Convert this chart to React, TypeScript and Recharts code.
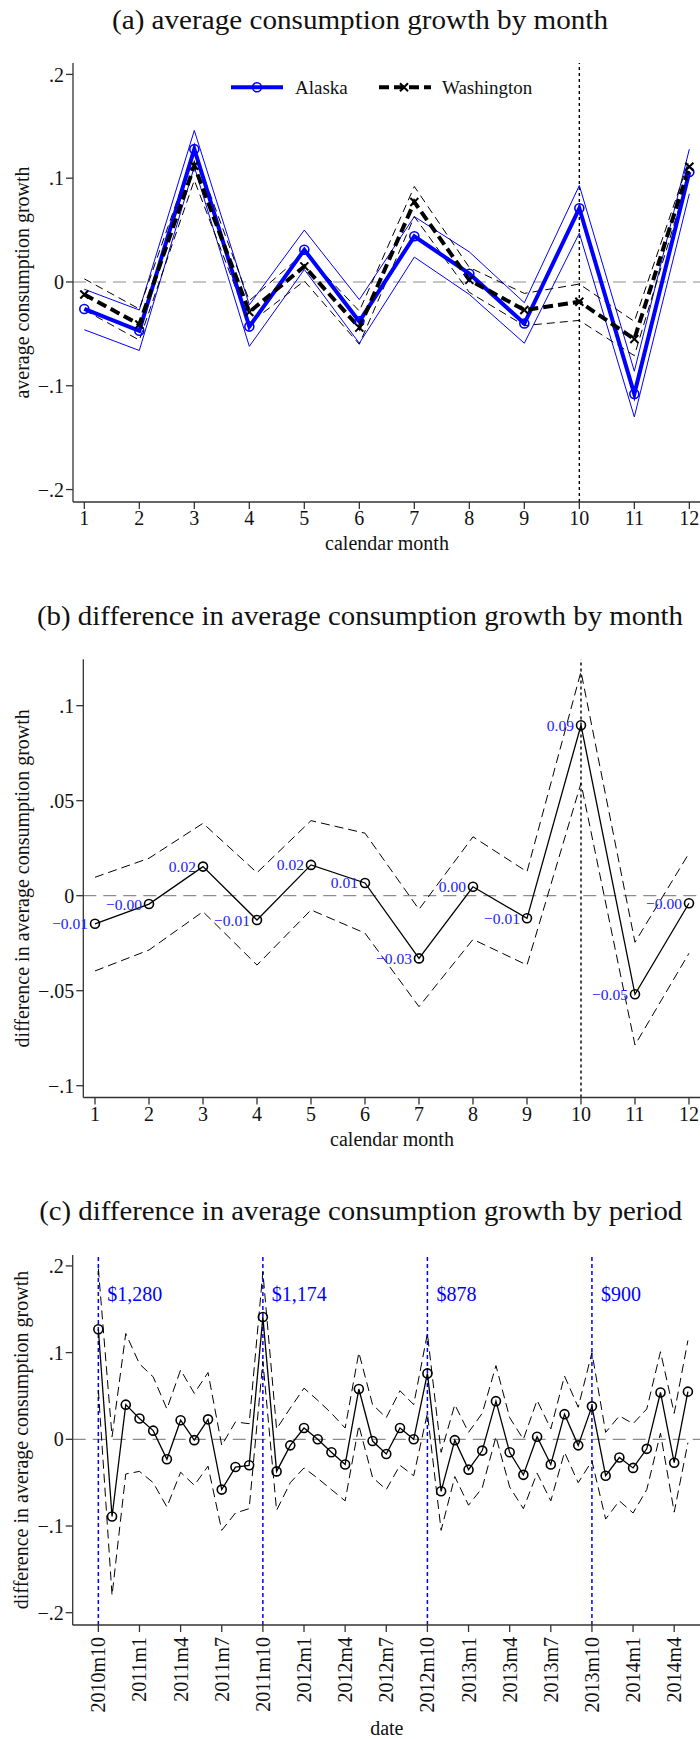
import React from "react";
import {
  LineChart,
  Line,
  XAxis,
  YAxis,
  ReferenceLine,
  ReferenceDot,
  LabelList,
  Legend,
} from "recharts";

const SERIF = '"Liberation Serif", "Times New Roman", serif';
const BLUE = "#0000ff";
const AXIS = "#333333";
const INK = "#111111";
const FONT = 20;

// (a) average consumption growth by calendar month
const months = [1, 2, 3, 4, 5, 6, 7, 8, 9, 10, 11, 12];
const alaska = [-0.026, -0.047, 0.128, -0.043, 0.031, -0.038, 0.044, 0.008, -0.04, 0.071, -0.108, 0.106];
const alaskaHi = [-0.007, -0.027, 0.146, -0.022, 0.05, -0.017, 0.063, 0.029, -0.02, 0.093, -0.086, 0.128];
const alaskaLo = [-0.046, -0.066, 0.111, -0.062, 0.012, -0.059, 0.024, -0.012, -0.059, 0.047, -0.13, 0.085];
const washington = [-0.012, -0.041, 0.112, -0.029, 0.015, -0.044, 0.077, 0.002, -0.027, -0.019, -0.055, 0.111];
const washingtonHi = [0.003, -0.026, 0.126, -0.018, 0.028, -0.028, 0.092, 0.014, -0.011, -0.002, -0.038, 0.118];
const washingtonLo = [-0.027, -0.056, 0.098, -0.04, 0.001, -0.06, 0.063, -0.01, -0.042, -0.037, -0.071, 0.104];

// (b) Alaska minus Washington, by calendar month
const monthDiff = [-0.0148, -0.0044, 0.0153, -0.0128, 0.0162, 0.0067, -0.033, 0.0047, -0.0119, 0.0897, -0.0519, -0.004];
const monthDiffHi = [0.0097, 0.0197, 0.0381, 0.0121, 0.0395, 0.0329, -0.0072, 0.031, 0.0126, 0.1179, -0.0245, 0.0223];
const monthDiffLo = [-0.0396, -0.0286, -0.0084, -0.0365, -0.0075, -0.0197, -0.0584, -0.023, -0.0365, 0.0592, -0.0786, -0.0303];

// (c) Alaska minus Washington, by period
const periods = [
  "2010m10", "2010m11", "2010m12",
  "2011m1", "2011m2", "2011m3", "2011m4", "2011m5", "2011m6", "2011m7", "2011m8", "2011m9", "2011m10", "2011m11", "2011m12",
  "2012m1", "2012m2", "2012m3", "2012m4", "2012m5", "2012m6", "2012m7", "2012m8", "2012m9", "2012m10", "2012m11", "2012m12",
  "2013m1", "2013m2", "2013m3", "2013m4", "2013m5", "2013m6", "2013m7", "2013m8", "2013m9", "2013m10", "2013m11", "2013m12",
  "2014m1", "2014m2", "2014m3", "2014m4", "2014m5",
];
const periodDiff = [
  0.127, -0.089, 0.04,
  0.024, 0.01, -0.023, 0.022, -0.001, 0.023, -0.058, -0.032, -0.03, 0.141, -0.037, -0.007,
  0.013, 0.0, -0.015, -0.029, 0.058, -0.002, -0.017, 0.013, 0.0, 0.076, -0.06, -0.001,
  -0.035, -0.013, 0.044, -0.015, -0.041, 0.003, -0.029, 0.029, -0.007, 0.038, -0.042, -0.021,
  -0.033, -0.011, 0.054, -0.027, 0.055,
];
const periodDiffHi = [
  0.197, 0.003, 0.122,
  0.087, 0.072, 0.035, 0.08, 0.053, 0.077, -0.007, 0.02, 0.018, 0.193, 0.012, 0.036,
  0.059, 0.045, 0.03, 0.013, 0.1, 0.04, 0.025, 0.056, 0.04, 0.122, -0.015, 0.04,
  0.008, 0.03, 0.085, 0.025, 0.0, 0.045, 0.012, 0.073, 0.037, 0.1, 0.008, 0.027,
  0.018, 0.035, 0.101, 0.03, 0.114,
];
const periodDiffLo = [
  0.057, -0.18, -0.04,
  -0.037, -0.05, -0.078, -0.038, -0.053, -0.031, -0.105, -0.085, -0.08, 0.09, -0.082, -0.05,
  -0.033, -0.045, -0.058, -0.071, 0.016, -0.044, -0.058, -0.03, -0.042, 0.03, -0.105, -0.043,
  -0.076, -0.056, 0.003, -0.055, -0.08, -0.039, -0.071, -0.015, -0.05, -0.025, -0.092, -0.071,
  -0.085, -0.058, 0.007, -0.084, -0.004,
];
const periodTicks = [
  "2010m10", "2011m1", "2011m4", "2011m7", "2011m10", "2012m1", "2012m4", "2012m7",
  "2012m10", "2013m1", "2013m4", "2013m7", "2013m10", "2014m1", "2014m4",
];
const paymentPeriods = ["2010m10", "2011m10", "2012m10", "2013m10"];
const paymentAmounts = ["$1,280", "$1,174", "$878", "$900"];
const PAYMENT_LABEL_Y = 0.168;

const stateRows = months.map((m, i) => ({
  month: m,
  alaska: alaska[i],
  alaskaHi: alaskaHi[i],
  alaskaLo: alaskaLo[i],
  washington: washington[i],
  washingtonHi: washingtonHi[i],
  washingtonLo: washingtonLo[i],
}));

const monthDiffRows = months.map((m, i) => ({
  month: m,
  diff: monthDiff[i],
  hi: monthDiffHi[i],
  lo: monthDiffLo[i],
}));

const periodRows = periods.map((p, i) => ({
  t: i,
  diff: periodDiff[i],
  hi: periodDiffHi[i],
  lo: periodDiffLo[i],
}));

// Stata-style tick labels: ".1", "-.05", "0"
const fmtTick = (v: number) => {
  if (v === 0) return "0";
  const s = String(Math.abs(v)).replace(/^0/, "");
  return v < 0 ? "\u2212" + s : s;
};
const fmtValue = (v: unknown) => Number(v).toFixed(2).replace("-", "\u2212");

const tickStyle = { fill: INK, fontSize: FONT, fontFamily: SERIF };
const axisLineStyle = { stroke: AXIS, strokeWidth: 1.3 };
const textFont = { fontSize: FONT, fontFamily: SERIF };

const hollowDot = (color: string) => ({ r: 4.5, stroke: color, strokeWidth: 1.6, fill: "none" });

const CrossDot = (props: any) => {
  const { cx, cy } = props;
  if (cx == null || cy == null) return null;
  const s = 4;
  return (
    <path
      d={`M${cx - s},${cy - s}L${cx + s},${cy + s}M${cx - s},${cy + s}L${cx + s},${cy - s}`}
      stroke="#000"
      strokeWidth={2}
      fill="none"
    />
  );
};

const StateLegend = () => (
  <svg width={700} height={30} style={{ display: "block" }}>
    <line x1={231} x2={283} y1={15.3} y2={15.3} stroke={BLUE} strokeWidth={4} />
    <circle cx={257} cy={15.3} r={4.5} fill="none" stroke={BLUE} strokeWidth={1.6} />
    <text x={295} y={21.6} fontSize={19} fontFamily={SERIF} fill={INK}>
      Alaska
    </text>
    <line x1={379} x2={431} y1={15.3} y2={15.3} stroke="#000" strokeWidth={4} strokeDasharray="10 5" />
    <CrossDot cx={404} cy={15.3} />
    <text x={442} y={21.6} fontSize={19} fontFamily={SERIF} fill={INK}>
      Washington
    </text>
  </svg>
);

const PeriodTick = (props: any) => {
  const { x, y, payload } = props;
  return (
    <text
      x={x}
      y={y}
      dy="0.35em"
      textAnchor="end"
      transform={`rotate(-90, ${x}, ${y})`}
      fill={INK}
      fontSize={FONT}
      fontFamily={SERIF}
    >
      {periods[payload.value]}
    </text>
  );
};

// rotated y-axis title, centred on the plot's height
const yTitle = (value: string, offset: number) => ({
  value,
  angle: -90,
  position: "insideLeft" as const,
  offset,
  fill: INK,
  style: { textAnchor: "middle" as const, ...textFont },
});

const xTitle = (value: string, offset: number, dx = 0) => ({
  value,
  position: "insideBottom" as const,
  offset,
  dx,
  fill: INK,
  style: { ...textFont },
});

function StateChart() {
  return (
    <LineChart
      width={720}
      height={562}
      data={stateRows}
      margin={{ top: 63, right: 19, bottom: 0, left: 0 }}
    >
      <ReferenceLine y={0} stroke="#8c8c8c" strokeWidth={1.2} strokeDasharray="13 7" />
      <ReferenceLine x={10} stroke="#000" strokeWidth={1.4} strokeDasharray="3 3" />
      <XAxis
        dataKey="month"
        type="number"
        domain={[0.7945, 12.212]}
        ticks={months}
        interval={0}
        allowDataOverflow
        height={60}
        tick={tickStyle}
        axisLine={axisLineStyle}
        tickLine={axisLineStyle}
        tickSize={7}
        tickMargin={2}
        label={xTitle("calendar month", 12)}
      />
      <YAxis
        type="number"
        domain={[-0.212, 0.211]}
        ticks={[-0.2, -0.1, 0, 0.1, 0.2]}
        allowDataOverflow
        width={73}
        tickFormatter={fmtTick}
        tick={tickStyle}
        axisLine={axisLineStyle}
        tickLine={axisLineStyle}
        tickSize={7}
        tickMargin={2}
        label={yTitle("average consumption growth", 22)}
      />
      <Line dataKey="alaskaHi" stroke={BLUE} strokeWidth={1} dot={false} activeDot={false} isAnimationActive={false} />
      <Line dataKey="alaskaLo" stroke={BLUE} strokeWidth={1} dot={false} activeDot={false} isAnimationActive={false} />
      <Line dataKey="washingtonHi" stroke="#000" strokeWidth={1} strokeDasharray="8 5" dot={false} activeDot={false} isAnimationActive={false} />
      <Line dataKey="washingtonLo" stroke="#000" strokeWidth={1} strokeDasharray="8 5" dot={false} activeDot={false} isAnimationActive={false} />
      <Line dataKey="alaska" name="Alaska" stroke={BLUE} strokeWidth={4} dot={hollowDot(BLUE)} activeDot={false} isAnimationActive={false} />
      <Line
        dataKey="washington"
        name="Washington"
        stroke="#000"
        strokeWidth={4}
        strokeDasharray="10 5"
        dot={(p: any) => <CrossDot key={p.index} {...p} />}
        activeDot={false}
        isAnimationActive={false}
      />
      <Legend
        layout="horizontal"
        verticalAlign="middle"
        align="center"
        content={StateLegend}
        wrapperStyle={{ top: 72, left: 0, width: 700, height: 30 }}
      />
    </LineChart>
  );
}

function MonthDiffChart() {
  return (
    <LineChart
      width={720}
      height={557.5}
      data={monthDiffRows}
      margin={{ top: 59.3, right: 19.3, bottom: 0, left: 0 }}
    >
      <ReferenceLine y={0} stroke="#8c8c8c" strokeWidth={1.3} strokeDasharray="13 7" />
      <XAxis
        dataKey="month"
        type="number"
        domain={[0.7833, 12.217]}
        ticks={months}
        interval={0}
        allowDataOverflow
        height={60}
        tick={tickStyle}
        axisLine={axisLineStyle}
        tickLine={axisLineStyle}
        tickSize={7}
        tickMargin={2}
        label={xTitle("calendar month", 12)}
      />
      <YAxis
        type="number"
        domain={[-0.1062, 0.1244]}
        ticks={[-0.1, -0.05, 0, 0.05, 0.1]}
        allowDataOverflow
        width={83.3}
        tickFormatter={fmtTick}
        tick={tickStyle}
        axisLine={axisLineStyle}
        tickLine={axisLineStyle}
        tickSize={7}
        tickMargin={2}
        label={yTitle("difference in average consumption growth", 21.7)}
      />
      <Line dataKey="hi" stroke="#000" strokeWidth={1} strokeDasharray="9 5" dot={false} activeDot={false} isAnimationActive={false} />
      <Line dataKey="lo" stroke="#000" strokeWidth={1} strokeDasharray="9 5" dot={false} activeDot={false} isAnimationActive={false} />
      <Line dataKey="diff" stroke="#000" strokeWidth={1.3} dot={hollowDot("#000")} activeDot={false} isAnimationActive={false}>
        <LabelList
          dataKey="diff"
          position="left"
          offset={7}
          formatter={fmtValue}
          fill="#1a1aff"
          style={{ fontSize: 15.5, fontFamily: SERIF }}
        />
      </Line>
      <ReferenceLine x={10} stroke="#000" strokeWidth={1.4} strokeDasharray="3 3" />
    </LineChart>
  );
}

function PeriodDiffChart() {
  const tickIdx = periodTicks.map((p) => periods.indexOf(p));
  return (
    <LineChart
      width={720}
      height={539}
      data={periodRows}
      margin={{ top: 55, right: 7, bottom: 0, left: 0 }}
    >
      <ReferenceLine y={0} stroke="#8c8c8c" strokeWidth={1.3} strokeDasharray="13 7" />
      {paymentPeriods.map((p) => (
        <ReferenceLine
          key={p}
          x={periods.indexOf(p)}
          stroke={BLUE}
          strokeWidth={1.5}
          strokeDasharray="4 3"
        />
      ))}
      <XAxis
        dataKey="t"
        type="number"
        domain={[-1.87, 44.83]}
        ticks={tickIdx}
        interval={0}
        allowDataOverflow
        height={114}
        tick={<PeriodTick />}
        axisLine={axisLineStyle}
        tickLine={axisLineStyle}
        tickSize={7}
        tickMargin={5}
        label={xTitle("date", 4, -6)}
      />
      <YAxis
        type="number"
        domain={[-0.2142, 0.2126]}
        ticks={[-0.2, -0.1, 0, 0.1, 0.2]}
        allowDataOverflow
        width={72.7}
        tickFormatter={fmtTick}
        tick={tickStyle}
        axisLine={axisLineStyle}
        tickLine={axisLineStyle}
        tickSize={7}
        tickMargin={2}
        label={yTitle("difference in average consumption growth", 21)}
      />
      <Line dataKey="hi" stroke="#000" strokeWidth={1} strokeDasharray="9 5" dot={false} activeDot={false} isAnimationActive={false} />
      <Line dataKey="lo" stroke="#000" strokeWidth={1} strokeDasharray="9 5" dot={false} activeDot={false} isAnimationActive={false} />
      <Line dataKey="diff" stroke="#000" strokeWidth={1.3} dot={hollowDot("#000")} activeDot={false} isAnimationActive={false} />
      {paymentPeriods.map((p, i) => (
        <ReferenceDot
          key={p}
          x={periods.indexOf(p)}
          y={PAYMENT_LABEL_Y}
          r={0}
          fill="none"
          stroke="none"
          label={{
            value: paymentAmounts[i],
            position: "right",
            offset: 9,
            fill: BLUE,
            style: { ...textFont },
          }}
        />
      ))}
    </LineChart>
  );
}

const titleProps = {
  textAnchor: "middle" as const,
  fontSize: 27,
  fontFamily: SERIF,
  fill: "#111",
  lengthAdjust: "spacingAndGlyphs" as const,
};

export default function App() {
  return (
    <div
      style={{
        position: "absolute",
        top: 0,
        left: 0,
        width: 700,
        height: 1739,
        overflow: "hidden",
        background: "#fff",
      }}
    >
      <svg width={700} height={1739} style={{ position: "absolute", top: 0, left: 0 }}>
        <text x={360} y={29} textLength={496} {...titleProps}>
          (a) average consumption growth by month
        </text>
        <text x={360} y={624.6} textLength={646} {...titleProps}>
          (b) difference in average consumption growth by month
        </text>
        <text x={360.7} y={1220} textLength={643} {...titleProps}>
          (c) difference in average consumption growth by period
        </text>
      </svg>
      <div style={{ position: "absolute", top: 0, left: 0 }}>
        <StateChart />
      </div>
      <div style={{ position: "absolute", top: 600, left: 0 }}>
        <MonthDiffChart />
      </div>
      <div style={{ position: "absolute", top: 1200, left: 0 }}>
        <PeriodDiffChart />
      </div>
    </div>
  );
}
